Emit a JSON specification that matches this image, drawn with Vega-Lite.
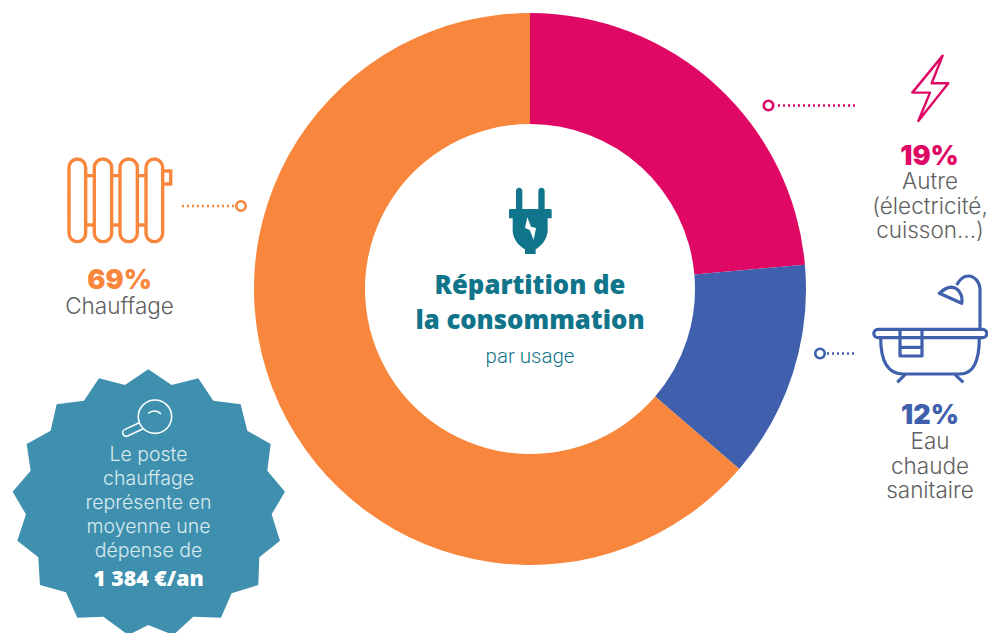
{"$schema":"https://vega.github.io/schema/vega-lite/v6.json","width":988,"height":633,"padding":0,"autosize":{"type":"none"},"background":"white","config":{"view":{"stroke":null}},
"datasets":{"usage":[{"usage":"Autre","drawn_share":23.6,"rank":1},{"usage":"Eau chaude sanitaire","drawn_share":12.7,"rank":2},{"usage":"Chauffage","drawn_share":63.7,"rank":3}],"one":[{"n":1}]},
"layer":[
{"data":{"name":"usage"},"mark":{"type":"arc","innerRadius":165,"outerRadius":276},"encoding":{"x":{"datum":530,"type":"quantitative","scale":{"domain":[0,988],"nice":false,"zero":false},"axis":null},"y":{"datum":289,"type":"quantitative","scale":{"domain":[0,633],"reverse":true,"nice":false,"zero":false},"axis":null},"theta":{"field":"drawn_share","type":"quantitative","stack":true,"scale":{"domain":[0,100]}},"order":{"field":"rank","type":"quantitative"},"color":{"field":"usage","type":"nominal","legend":null,"scale":{"domain":["Autre","Eau chaude sanitaire","Chauffage"],"range":["#df0865","#4060ad","#f8873d"]}}}},
{"data":{"name":"one"},"mark":{"type":"point","shape":"M0,-367 L70,-320 L150,-340 L195,-273 L277,-262 L297,-183 L367,-143 L357,-63 L410,0 L370,68 L395,147 L333,197 L330,280 L250,305 L218,378 L135,375 L75,430 L0,400 L-60,430 L-135,375 L-213,378 L-247,302 L-325,280 L-330,197 L-393,147 L-367,68 L-407,0 L-353,-63 L-365,-143 L-293,-183 L-275,-262 L-193,-273 L-148,-340 L-70,-320 Z","filled":true,"fill":"#3f8fae","stroke":null,"size":0.4444,"opacity":1},"encoding":{"x":{"datum":148.3,"type":"quantitative","scale":{"domain":[0,988],"nice":false,"zero":false},"axis":null},"y":{"datum":491.7,"type":"quantitative","scale":{"domain":[0,633],"reverse":true,"nice":false,"zero":false},"axis":null}}},
{"data":{"name":"one"},"mark":{"type":"point","shape":"M-30,-225 A50,50 0 1 1 70,-225 A50,50 0 1 1 -30,-225 Z M-27,-207 L-70,-187 A10,10 0 0 0 -62,-167 L-17,-188 M0,-235 C10,-245 28,-245 38,-233","filled":false,"stroke":"#ffffff","strokeWidth":1.6,"size":0.4444,"opacity":1},"encoding":{"x":{"datum":148.3,"type":"quantitative","scale":{"domain":[0,988],"nice":false,"zero":false},"axis":null},"y":{"datum":491.7,"type":"quantitative","scale":{"domain":[0,633],"reverse":true,"nice":false,"zero":false},"axis":null}}},
{"data":{"name":"one"},"mark":{"type":"point","shape":"M-153,-98 A25,25 0 0 1 -103,-98 L-103,100 A25,25 0 0 1 -153,100 Z M-77,-98 A26,25 0 0 1 -25,-98 L-25,100 A26,25 0 0 1 -77,100 Z M0,-98 A26,25 0 0 1 52,-98 L52,100 A26,25 0 0 1 0,100 Z M78,-98 A25,25 0 0 1 128,-98 L128,100 A25,25 0 0 1 78,100 Z M-103,-73 L-77,-73 M-25,-73 L0,-73 M52,-73 L78,-73 M-103,75 L-77,75 M-25,75 L0,75 M52,75 L78,75 M128,-87 L152,-87 L152,-48 L128,-48","filled":false,"stroke":"#f8873d","strokeWidth":3.4,"size":0.4444,"opacity":1},"encoding":{"x":{"datum":120,"type":"quantitative","scale":{"domain":[0,988],"nice":false,"zero":false},"axis":null},"y":{"datum":200,"type":"quantitative","scale":{"domain":[0,633],"reverse":true,"nice":false,"zero":false},"axis":null}}},
{"data":{"name":"one"},"mark":{"type":"point","shape":"M38,-98 L-53,13 L0,13 L-35,98 L55,-15 L5,-15 Z","filled":false,"stroke":"#df0865","strokeWidth":2.4,"strokeJoin":"round","size":0.4444,"opacity":1},"encoding":{"x":{"datum":930,"type":"quantitative","scale":{"domain":[0,988],"nice":false,"zero":false},"axis":null},"y":{"datum":88.3,"type":"quantitative","scale":{"domain":[0,633],"reverse":true,"nice":false,"zero":false},"axis":null}}},
{"data":{"name":"one"},"mark":{"type":"point","shape":"M-156,-2 L158,-2 A12,12 0 0 1 158,23 L-156,23 A12,12 0 0 1 -156,-2 Z M-148,23 C-148,90 -130,132 -80,132 L90,132 C130,132 148,90 148,23 M-75,134 L-98,157 M75,134 L100,157 M-90,0 L-90,78 L-24,78 L-24,0 M-90,52 L-24,52 M150,-2 L150,-120 A35,42 0 0 0 115,-162 C100,-162 88,-150 80,-135 M28,-110 L95,-80 C102,-115 70,-150 28,-110 Z","filled":false,"stroke":"#4060ad","strokeWidth":3.2,"strokeJoin":"round","size":0.4444,"opacity":1},"encoding":{"x":{"datum":930,"type":"quantitative","scale":{"domain":[0,988],"nice":false,"zero":false},"axis":null},"y":{"datum":330,"type":"quantitative","scale":{"domain":[0,633],"reverse":true,"nice":false,"zero":false},"axis":null}}},
{"data":{"name":"one"},"mark":{"type":"point","shape":"M-42,-30 L-42,-87 A9.5,9.5 0 0 1 -23,-87 L-23,-33 L25,-33 L25,-87 A9.5,9.5 0 0 1 44,-87 L44,-33 L61,-33 A4,4 0 0 1 65,-29 L65,-5 L53,-5 L53,30 C53,60 30,80 17,88 L17,102 L-15,102 L-15,88 C-30,80 -52,60 -52,30 L-52,-5 L-63,-5 L-63,-29 A4,4 0 0 1 -59,-33 L-42,-33 Z","filled":true,"fill":"#10758a","stroke":null,"size":0.4444,"opacity":1},"encoding":{"x":{"datum":530,"type":"quantitative","scale":{"domain":[0,988],"nice":false,"zero":false},"axis":null},"y":{"datum":220,"type":"quantitative","scale":{"domain":[0,633],"reverse":true,"nice":false,"zero":false},"axis":null}}},
{"data":{"name":"one"},"mark":{"type":"point","shape":"M-8,-8 L-15,24 L-1,30 L11,60 L18,24 L3,20 Z","filled":true,"fill":"#ffffff","stroke":null,"size":0.4444,"opacity":1},"encoding":{"x":{"datum":530,"type":"quantitative","scale":{"domain":[0,988],"nice":false,"zero":false},"axis":null},"y":{"datum":220,"type":"quantitative","scale":{"domain":[0,633],"reverse":true,"nice":false,"zero":false},"axis":null}}},
{"data":{"name":"one"},"mark":{"type":"rule","color":"#f8873d","strokeWidth":2.4,"strokeDash":[2,3],"strokeCap":"butt"},"encoding":{"x":{"datum":182,"type":"quantitative","scale":{"domain":[0,988],"nice":false,"zero":false},"axis":null},"x2":{"datum":236},"y":{"datum":206,"type":"quantitative","scale":{"domain":[0,633],"reverse":true,"nice":false,"zero":false},"axis":null}}},
{"data":{"name":"one"},"mark":{"type":"rule","color":"#df0865","strokeWidth":2.4,"strokeDash":[2,3],"strokeCap":"butt"},"encoding":{"x":{"datum":778,"type":"quantitative","scale":{"domain":[0,988],"nice":false,"zero":false},"axis":null},"x2":{"datum":857},"y":{"datum":105.5,"type":"quantitative","scale":{"domain":[0,633],"reverse":true,"nice":false,"zero":false},"axis":null}}},
{"data":{"name":"one"},"mark":{"type":"rule","color":"#4060ad","strokeWidth":2.4,"strokeDash":[2,3],"strokeCap":"butt"},"encoding":{"x":{"datum":827,"type":"quantitative","scale":{"domain":[0,988],"nice":false,"zero":false},"axis":null},"x2":{"datum":857},"y":{"datum":353.5,"type":"quantitative","scale":{"domain":[0,633],"reverse":true,"nice":false,"zero":false},"axis":null}}},
{"data":{"name":"one"},"mark":{"type":"point","shape":"circle","filled":false,"stroke":"#f8873d","strokeWidth":2.6,"size":90,"opacity":1},"encoding":{"x":{"datum":241,"type":"quantitative","scale":{"domain":[0,988],"nice":false,"zero":false},"axis":null},"y":{"datum":206,"type":"quantitative","scale":{"domain":[0,633],"reverse":true,"nice":false,"zero":false},"axis":null}}},
{"data":{"name":"one"},"mark":{"type":"point","shape":"circle","filled":false,"stroke":"#df0865","strokeWidth":2.6,"size":90,"opacity":1},"encoding":{"x":{"datum":768.5,"type":"quantitative","scale":{"domain":[0,988],"nice":false,"zero":false},"axis":null},"y":{"datum":105.5,"type":"quantitative","scale":{"domain":[0,633],"reverse":true,"nice":false,"zero":false},"axis":null}}},
{"data":{"name":"one"},"mark":{"type":"point","shape":"circle","filled":false,"stroke":"#4060ad","strokeWidth":2.6,"size":90,"opacity":1},"encoding":{"x":{"datum":820,"type":"quantitative","scale":{"domain":[0,988],"nice":false,"zero":false},"axis":null},"y":{"datum":353.5,"type":"quantitative","scale":{"domain":[0,633],"reverse":true,"nice":false,"zero":false},"axis":null}}},
{"data":{"values":[{"t":"69%"}]},"mark":{"type":"text","font":"Inter","fontWeight":900,"fontSize":27,"align":"center","baseline":"alphabetic","color":"#f8873d"},"encoding":{"text":{"field":"t"},"x":{"datum":119.5,"type":"quantitative","scale":{"domain":[0,988],"nice":false,"zero":false},"axis":null},"y":{"datum":289,"type":"quantitative","scale":{"domain":[0,633],"reverse":true,"nice":false,"zero":false},"axis":null}}},
{"data":{"values":[{"t":"19%"}]},"mark":{"type":"text","font":"Inter","fontWeight":900,"fontSize":27,"align":"center","baseline":"alphabetic","color":"#df0865"},"encoding":{"text":{"field":"t"},"x":{"datum":929.5,"type":"quantitative","scale":{"domain":[0,988],"nice":false,"zero":false},"axis":null},"y":{"datum":165,"type":"quantitative","scale":{"domain":[0,633],"reverse":true,"nice":false,"zero":false},"axis":null}}},
{"data":{"values":[{"t":"12%"}]},"mark":{"type":"text","font":"Inter","fontWeight":900,"fontSize":27,"align":"center","baseline":"alphabetic","color":"#4060ad"},"encoding":{"text":{"field":"t"},"x":{"datum":930,"type":"quantitative","scale":{"domain":[0,988],"nice":false,"zero":false},"axis":null},"y":{"datum":424,"type":"quantitative","scale":{"domain":[0,633],"reverse":true,"nice":false,"zero":false},"axis":null}}},
{"data":{"values":[{"t":"Chauffage"}]},"mark":{"type":"text","font":"Inter","fontWeight":300,"fontSize":22.5,"align":"center","baseline":"alphabetic","color":"#5f5f5f"},"encoding":{"text":{"field":"t"},"x":{"datum":119.5,"type":"quantitative","scale":{"domain":[0,988],"nice":false,"zero":false},"axis":null},"y":{"datum":314,"type":"quantitative","scale":{"domain":[0,633],"reverse":true,"nice":false,"zero":false},"axis":null}}},
{"data":{"values":[{"t":"Autre\n(électricité,\ncuisson…)"}]},"mark":{"type":"text","font":"Inter","fontWeight":300,"fontSize":22.5,"lineBreak":"\n","lineHeight":24.5,"align":"center","baseline":"alphabetic","color":"#5f5f5f"},"encoding":{"text":{"field":"t"},"x":{"datum":930,"type":"quantitative","scale":{"domain":[0,988],"nice":false,"zero":false},"axis":null},"y":{"datum":189,"type":"quantitative","scale":{"domain":[0,633],"reverse":true,"nice":false,"zero":false},"axis":null}}},
{"data":{"values":[{"t":"Eau\nchaude\nsanitaire"}]},"mark":{"type":"text","font":"Inter","fontWeight":300,"fontSize":22.5,"lineBreak":"\n","lineHeight":24.5,"align":"center","baseline":"alphabetic","color":"#5f5f5f"},"encoding":{"text":{"field":"t"},"x":{"datum":930,"type":"quantitative","scale":{"domain":[0,988],"nice":false,"zero":false},"axis":null},"y":{"datum":449,"type":"quantitative","scale":{"domain":[0,633],"reverse":true,"nice":false,"zero":false},"axis":null}}},
{"data":{"values":[{"t":"Le poste\nchauffage\nreprésente en\nmoyenne une\ndépense de"}]},"mark":{"type":"text","font":"Inter","fontWeight":300,"fontSize":19.5,"lineBreak":"\n","lineHeight":24,"align":"center","baseline":"alphabetic","color":"#d8eaf0"},"encoding":{"text":{"field":"t"},"x":{"datum":148.5,"type":"quantitative","scale":{"domain":[0,988],"nice":false,"zero":false},"axis":null},"y":{"datum":461,"type":"quantitative","scale":{"domain":[0,633],"reverse":true,"nice":false,"zero":false},"axis":null}}},
{"data":{"values":[{"t":"1 384 €/an"}]},"mark":{"type":"text","font":"Open Sans","fontWeight":800,"fontSize":21.3,"align":"center","baseline":"alphabetic","color":"#ffffff"},"encoding":{"text":{"field":"t"},"x":{"datum":148.5,"type":"quantitative","scale":{"domain":[0,988],"nice":false,"zero":false},"axis":null},"y":{"datum":586,"type":"quantitative","scale":{"domain":[0,633],"reverse":true,"nice":false,"zero":false},"axis":null}}},
{"data":{"values":[{"t":"Répartition de\nla consommation"}]},"mark":{"type":"text","font":"Open Sans","fontWeight":800,"fontSize":25.7,"lineBreak":"\n","lineHeight":35,"align":"center","baseline":"alphabetic","color":"#10758a"},"encoding":{"text":{"field":"t"},"x":{"datum":530,"type":"quantitative","scale":{"domain":[0,988],"nice":false,"zero":false},"axis":null},"y":{"datum":294,"type":"quantitative","scale":{"domain":[0,633],"reverse":true,"nice":false,"zero":false},"axis":null}}},
{"data":{"values":[{"t":"par usage"}]},"mark":{"type":"text","font":"Roboto","fontWeight":300,"fontSize":20.5,"align":"center","baseline":"alphabetic","color":"#10758a"},"encoding":{"text":{"field":"t"},"x":{"datum":530,"type":"quantitative","scale":{"domain":[0,988],"nice":false,"zero":false},"axis":null},"y":{"datum":363,"type":"quantitative","scale":{"domain":[0,633],"reverse":true,"nice":false,"zero":false},"axis":null}}}
]}
